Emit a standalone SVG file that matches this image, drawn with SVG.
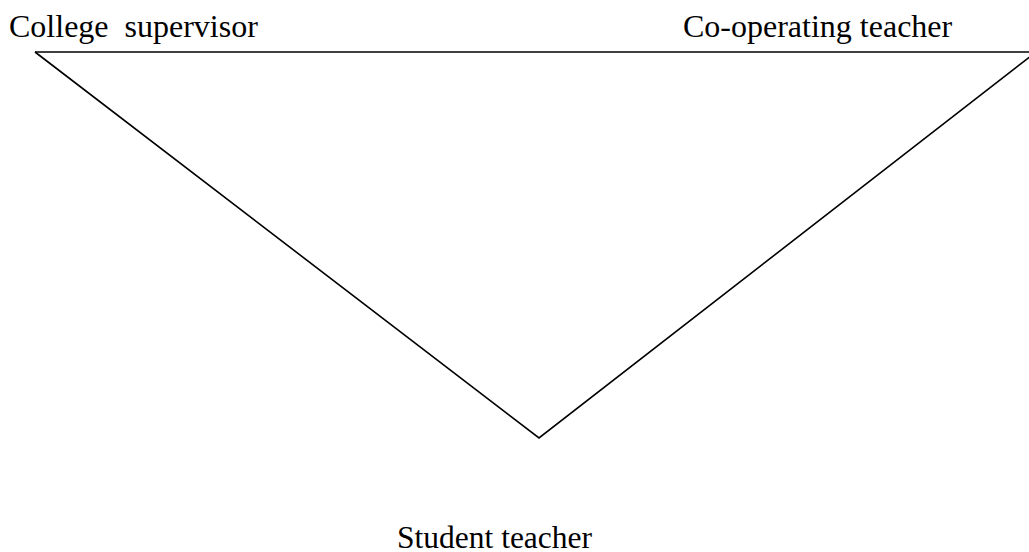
<svg xmlns="http://www.w3.org/2000/svg" width="1029" height="552" viewBox="0 0 1029 552">
<style>
text{font-family:"Liberation Serif","Times New Roman",serif;font-size:32px;fill:#000}
.edge{fill:none;stroke:#000;stroke-width:1.6}
</style>
<rect width="1029" height="552" fill="#fff"/>
<g id="connectors">
<polyline class="edge" points="35,52 1036,52"/>
<polyline class="edge" points="35,52 539,438 1036,52"/>
</g>
<g id="college-supervisor"><text x="9" y="37" xml:space="preserve">College  supervisor</text></g>
<g id="co-operating-teacher"><text x="683" y="37">Co-operating teacher</text></g>
<g id="student-teacher"><text x="397" y="548" style="font-size:31.5px">Student teacher</text></g>
</svg>
